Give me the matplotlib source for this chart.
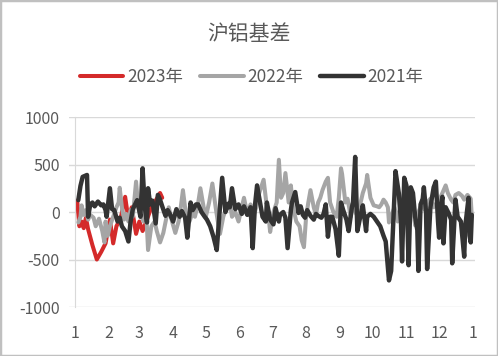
import matplotlib
matplotlib.use("Agg")
import matplotlib.pyplot as plt
from matplotlib.patches import Rectangle

plt.rcParams['font.family'] = ['Noto Sans CJK SC', 'DejaVu Sans']

title = "沪铝基差"
month_ticks = [0, 31, 59, 90, 120, 151, 181, 212, 243, 273, 304, 334, 365]
month_labels = ["1", "2", "3", "4", "5", "6", "7", "8", "9", "10", "11", "12", "1"]
y_ticks = [-1000, -500, 0, 500, 1000]

# 2023 (day of year, basis)
d2023 = [2, 4, 6, 8, 10, 12, 16, 20, 24, 28, 32, 35, 38, 42, 46, 49, 52, 56, 59, 62, 66, 70, 74, 78, 80]
v2023 = [120, -150, -100, -170, -60, -180, -350, -500, -420, -330, -80, -330, -150, -60, 160, -80, 50,
         -230, -100, -200, -80, 50, 120, 200, 150]

# 2022
d2022 = [3, 5, 6, 8, 10, 12, 14, 17, 19, 22, 25, 27, 28, 30, 32, 35, 38, 40, 41, 43, 45, 47, 49, 51, 53,
         56, 58, 61, 63, 65, 67, 70, 73, 75, 78, 81, 84, 86, 89, 92, 95, 97, 99, 102, 105, 108, 110, 113,
         115, 118, 120, 123, 126, 129, 131, 133, 136, 139, 142, 144, 147, 150, 153, 155, 158, 161, 164,
         166, 169, 173, 176, 178, 179, 182, 185, 187, 189, 191, 193, 196, 198, 200, 203, 206, 208, 210,
         212, 214, 216, 219, 221, 223, 225, 227, 230, 232, 234, 237, 240, 242, 244, 245, 248, 250, 253,
         255, 258, 261, 264, 267, 268, 271, 274, 277, 279, 281, 283, 285, 287, 288, 290, 293, 296, 299,
         301, 303, 306, 309, 311, 312, 315, 318, 321, 323, 326, 329, 332, 335, 337, 340, 342, 345, 347,
         349, 352, 355, 357, 360, 363, 364]
v2022 = [-110, -50, 70, -30, 20, -80, -30, -60, -150, -70, -200, -320, -100, -250, -150, -50, 50, 100,
         255, 50, -80, -20, -100, 20, -50, 320, 50, -50, -100, 70, -400, -150, -100, -200, -320, -220,
         -50, 50, -100, -220, -100, 50, 230, -50, -100, 0, -50, 100, 250, 50, -50, 100, 300, 50, -100,
         -230, -50, 50, 100, -50, 0, -100, 50, 150, -20, 80, -30, 40, 200, 340, 50, -100, -210, 0, 100,
         550, 150, 200, 410, 100, 280, 50, -100, -150, -300, -370, -50, 100, 230, 50, -30, 100, 150, 230,
         320, 360, 100, 0, -50, 150, 460, 400, 100, 140, -50, 100, -20, 50, 200, 300, 390, 150, 70, 60,
         50, 80, 130, 100, 50, -110, -50, 50, -100, 100, 150, 310, 100, 0, -50, -140, 0, 80, 20, 100,
         140, 50, 100, 150, 200, 280, 200, 130, 100, 180, 200, 170, 130, 180, 140, -50]

# 2021
d2021 = [3, 5, 7, 11, 12, 14, 16, 18, 21, 24, 26, 28, 29, 32, 34, 36, 39, 41, 43, 46, 49, 51, 53, 57,
         60, 62, 64, 66, 67, 69, 71, 74, 76, 78, 80, 83, 85, 87, 90, 93, 96, 98, 101, 103, 106, 108, 111,
         113, 116, 119, 121, 124, 127, 130, 133, 135, 138, 141, 142, 144, 147, 150, 153, 155, 158, 161,
         163, 165, 167, 170, 172, 175, 176, 179, 182, 184, 187, 188, 191, 193, 195, 198, 199, 202, 205,
         207, 209, 211, 213, 216, 219, 221, 223, 226, 228, 230, 232, 234, 236, 239, 242, 244, 246, 249,
         251, 254, 255, 257, 259, 262, 264, 267, 268, 271, 274, 277, 280, 283, 285, 288, 290, 294, 297,
         299, 300, 302, 304, 306, 308, 310, 312, 314, 315, 317, 319, 320, 322, 323, 326, 329, 331, 333,
         334, 335, 337, 338, 340, 343, 345, 346, 349, 351, 354, 357, 358, 361, 362, 363, 364]
v2021 = [125, 275, 370, 390, -50, 80, 100, 60, 110, 70, 80, 20, -50, 250, 30, 20, -100, -60, -150,
         -200, -310, -100, 30, 125, -50, 460, 50, -110, 250, 80, 120, -120, 180, 130, 60, -40, 20, -20,
         -100, 30, -50, 10, -60, -270, 100, 20, 80, 80, 0, -50, -80, -150, -260, -400, 60, 360, 0, 90,
         50, 250, 30, 80, -20, 60, -30, 50, -380, 60, 280, 80, -50, -100, 100, -80, -130, 40, -100, -30,
         0, -60, -380, 20, 100, 210, -10, 60, -30, -60, 20, -40, -80, -20, -40, -60, -20, 80, -260, -50,
         -50, -180, -460, 100, 20, -80, -200, 50, 100, 580, -200, -30, 70, -200, -50, -20, -50, -100,
         -150, -250, -310, -720, -620, 430, 200, -100, -520, 360, 280, -560, 260, 200, -50, -190, -620,
         80, 140, 260, 0, -600, 50, 260, 320, -100, -270, 20, 160, -330, 50, -20, -80, -540, 130, -50,
         -100, -470, -150, 150, -250, -320, -30]

fig = plt.figure(figsize=(4.98, 3.56), dpi=100)
fig.patches.append(Rectangle((0, 0), 1, 1, transform=fig.transFigure, fill=False,
                             edgecolor="#c0c0c0", linewidth=2.5))

ax = fig.add_axes([0.1386, 0.1376, 0.954 - 0.1386, 0.6713 - 0.1376])
l3, = ax.plot(d2023, v2023, color="#d42a2a", lw=2.9, label="2023年",
              solid_joinstyle="round", solid_capstyle="round")
l2, = ax.plot(d2022, v2022, color="#a5a5a5", lw=2.9, label="2022年",
              solid_joinstyle="round", solid_capstyle="round")
l1, = ax.plot(d2021, v2021, color="#333333", lw=3.2, label="2021年",
              solid_joinstyle="round", solid_capstyle="round")

ax.set_xlim(-5.5, 367)
ax.set_ylim(-1000, 1000)
ax.set_yticks(y_ticks)
ax.set_yticklabels([str(t) for t in y_ticks])
ax.set_xticks(month_ticks)
ax.set_xticklabels(month_labels)
ax.grid(axis="y", color="#d9d9d9", lw=1)
ax.set_axisbelow(True)
for s in ["top", "right", "bottom"]:
    ax.spines[s].set_visible(False)
ax.spines["left"].set_position(("data", 0))
ax.spines["left"].set_color("#d9d9d9")
ax.tick_params(axis="both", length=0, labelsize=11.5, colors="#595959")
ax.tick_params(axis="y", pad=11)
ax.tick_params(axis="x", pad=13)

fig.text(0.5, 0.905, title, ha="center", va="center", fontsize=15, color="#595959")
fig.legend(handles=[l3, l2, l1], loc="center", bbox_to_anchor=(0.505, 0.783), ncol=3,
           frameon=False, fontsize=12.5, handlelength=2.5, handletextpad=0.2, columnspacing=1.0,
           labelcolor="#595959")

fig.savefig("out.png", dpi=100)
